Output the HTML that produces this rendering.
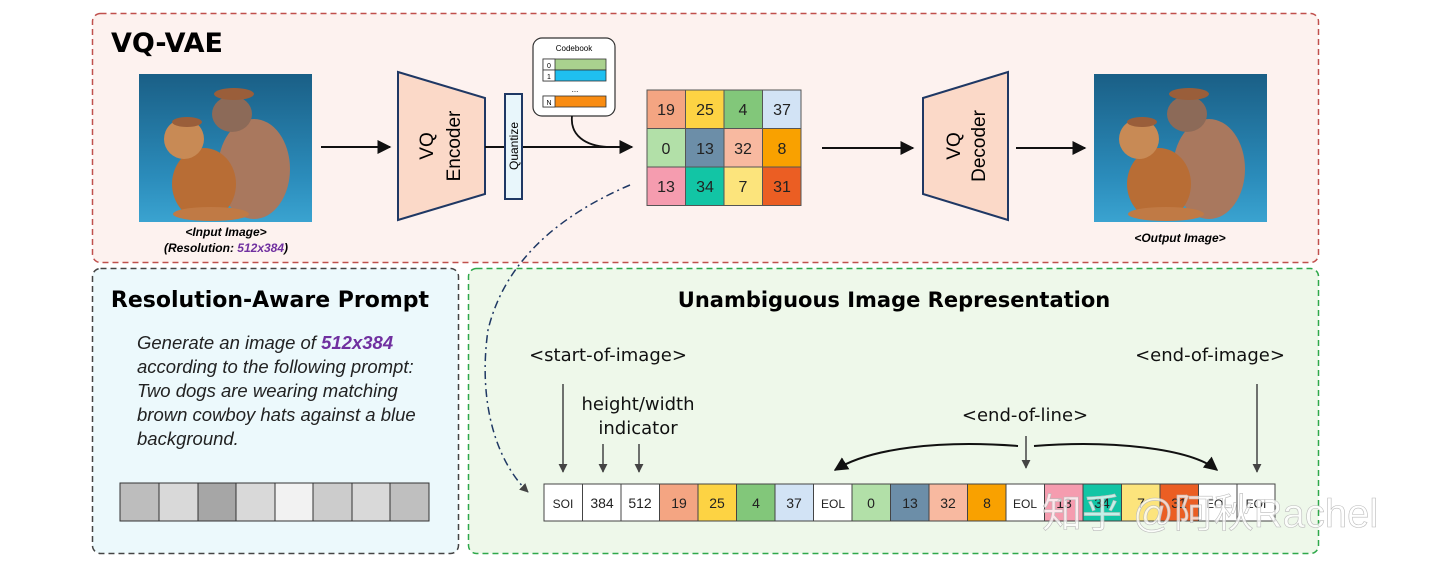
<!DOCTYPE html>
<html><head><meta charset="utf-8"><style>
html,body{margin:0;padding:0;background:#fff;width:1440px;height:574px;overflow:hidden}
svg text{font-family:"Liberation Sans","DejaVu Sans",sans-serif}
</style></head><body>
<svg width="1440" height="574" viewBox="0 0 1440 574" xmlns="http://www.w3.org/2000/svg">
<defs>
<marker id="a" viewBox="0 0 10 10" refX="9" refY="5" markerWidth="7" markerHeight="7" orient="auto"><path d="M0,0 L10,5 L0,10 z" fill="#111"/></marker>
<marker id="g" viewBox="0 0 10 10" refX="9" refY="5" markerWidth="6" markerHeight="6" orient="auto"><path d="M0,0 L10,5 L0,10 z" fill="#444"/></marker>
<linearGradient id="bg" x1="0" y1="0" x2="0" y2="1"><stop offset="0" stop-color="#1a5f86"/><stop offset="0.7" stop-color="#2b8cbb"/><stop offset="1" stop-color="#3aa3d0"/></linearGradient>
<g id="dogs">
<rect x="0" y="0" width="173" height="148" fill="url(#bg)"/>
<ellipse cx="115" cy="95" rx="36" ry="50" fill="#a9785e"/>
<ellipse cx="93" cy="40" rx="20" ry="18" fill="#8c6a58"/>
<ellipse cx="95" cy="20" rx="20" ry="6" fill="#9a5e3a"/>
<ellipse cx="65" cy="110" rx="32" ry="36" fill="#b86d35"/>
<ellipse cx="45" cy="65" rx="20" ry="20" fill="#c88a55"/>
<ellipse cx="48" cy="48" rx="15" ry="5" fill="#9a5e3a"/>
<ellipse cx="72" cy="140" rx="38" ry="7" fill="#c07a45"/>
</g>
</defs>

<rect x="92.5" y="13.5" width="1226" height="249" rx="8" fill="#fdf2ef" stroke="#c0504d" stroke-width="1.5" stroke-dasharray="6,4"/>
<rect x="92.5" y="268.5" width="366" height="285" rx="8" fill="#ecf9fc" stroke="#444" stroke-width="1.5" stroke-dasharray="6,4"/>
<rect x="468.5" y="268.5" width="850" height="285" rx="8" fill="#eef8ea" stroke="#2ea84a" stroke-width="1.5" stroke-dasharray="6,4"/>

<text x="111" y="52" font-size="27" font-weight="bold" style="font-family:'DejaVu Sans',sans-serif">VQ-VAE</text>

<use href="#dogs" x="139" y="74"/>
<use href="#dogs" x="1094" y="74"/>
<text x="226" y="236" font-size="12" font-style="italic" font-weight="bold" text-anchor="middle">&lt;Input Image&gt;</text>
<text x="226" y="252" font-size="12" font-style="italic" font-weight="bold" text-anchor="middle">(Resolution: <tspan fill="#7030a0">512x384</tspan>)</text>
<text x="1180" y="242" font-size="12" font-style="italic" font-weight="bold" text-anchor="middle">&lt;Output Image&gt;</text>

<line x1="321" y1="147" x2="390" y2="147" stroke="#111" stroke-width="2" marker-end="url(#a)"/>
<polygon points="398,72 485,98 485,194 398,220" fill="#fbd9c8" stroke="#1f3864" stroke-width="2"/>
<text transform="translate(433,146) rotate(-90)" font-size="19" text-anchor="middle">VQ</text>
<text transform="translate(460,146) rotate(-90)" font-size="19" text-anchor="middle">Encoder</text>
<line x1="485" y1="147" x2="632" y2="147" stroke="#111" stroke-width="2" marker-end="url(#a)"/>
<rect x="505" y="94" width="17" height="105" fill="#e8f6fb" stroke="#1f3864" stroke-width="2"/>
<text transform="translate(518,146) rotate(-90)" font-size="12" text-anchor="middle">Quantize</text>

<rect x="533" y="38" width="82" height="78" rx="9" fill="#fff" stroke="#333" stroke-width="1.2"/>
<text x="574" y="51" font-size="8" text-anchor="middle">Codebook</text>
<rect x="543" y="59" width="63" height="11" fill="#a9d18e" stroke="#333" stroke-width="0.8"/>
<rect x="543" y="70" width="63" height="11" fill="#1fbff0" stroke="#333" stroke-width="0.8"/>
<rect x="543" y="96" width="63" height="11" fill="#f98c12" stroke="#333" stroke-width="0.8"/>
<rect x="543" y="59" width="12" height="11" fill="#fff" stroke="#333" stroke-width="0.8"/>
<rect x="543" y="70" width="12" height="11" fill="#fff" stroke="#333" stroke-width="0.8"/>
<rect x="543" y="96" width="12" height="11" fill="#fff" stroke="#333" stroke-width="0.8"/>
<text x="549" y="68" font-size="7" text-anchor="middle">0</text>
<text x="549" y="79" font-size="7" text-anchor="middle">1</text>
<text x="549" y="105" font-size="7" text-anchor="middle">N</text>
<text x="575" y="92" font-size="8" text-anchor="middle">...</text>
<path d="M572,116 C570,135 585,146 608,147" fill="none" stroke="#111" stroke-width="1.8"/>

<g stroke="#555" stroke-width="1">
<rect x="647" y="90" width="38.5" height="38.5" fill="#f4a582"/><rect x="685.5" y="90" width="38.5" height="38.5" fill="#fdd343"/><rect x="724" y="90" width="38.5" height="38.5" fill="#82c77a"/><rect x="762.5" y="90" width="38.5" height="38.5" fill="#d2e3f5"/>
<rect x="647" y="128.5" width="38.5" height="38.5" fill="#b2e0a8"/><rect x="685.5" y="128.5" width="38.5" height="38.5" fill="#6c8ea8"/><rect x="724" y="128.5" width="38.5" height="38.5" fill="#f8b9a0"/><rect x="762.5" y="128.5" width="38.5" height="38.5" fill="#f9a100"/>
<rect x="647" y="167" width="38.5" height="38.5" fill="#f59caf"/><rect x="685.5" y="167" width="38.5" height="38.5" fill="#12c5a5"/><rect x="724" y="167" width="38.5" height="38.5" fill="#fce47c"/><rect x="762.5" y="167" width="38.5" height="38.5" fill="#eb5e23"/>
</g>
<g font-size="16" text-anchor="middle" fill="#222">
<text x="666" y="115">19</text><text x="705" y="115">25</text><text x="743" y="115">4</text><text x="782" y="115">37</text>
<text x="666" y="154">0</text><text x="705" y="154">13</text><text x="743" y="154">32</text><text x="782" y="154">8</text>
<text x="666" y="192">13</text><text x="705" y="192">34</text><text x="743" y="192">7</text><text x="782" y="192">31</text>
</g>

<line x1="822" y1="148" x2="913" y2="148" stroke="#111" stroke-width="2" marker-end="url(#a)"/>
<polygon points="923,98 1008,72 1008,220 923,194" fill="#fbd9c8" stroke="#1f3864" stroke-width="2"/>
<text transform="translate(960,146) rotate(-90)" font-size="19" text-anchor="middle">VQ</text>
<text transform="translate(985,146) rotate(-90)" font-size="19" text-anchor="middle">Decoder</text>
<line x1="1016" y1="148" x2="1085" y2="148" stroke="#111" stroke-width="2" marker-end="url(#a)"/>

<path d="M630,185 C560,215 505,260 488,330 C478,400 495,460 528,492" fill="none" stroke="#1f3864" stroke-width="1.5" stroke-dasharray="8,4,2,4" marker-end="url(#g)"/>

<text x="270" y="307" font-size="22" font-weight="bold" text-anchor="middle" style="font-family:'DejaVu Sans',sans-serif">Resolution-Aware Prompt</text>
<g font-size="18.5" font-style="italic" fill="#222">
<text x="137" y="349">Generate an image of  <tspan fill="#7030a0" font-weight="bold">512x384</tspan></text>
<text x="137" y="373">according to the following prompt:</text>
<text x="137" y="397">Two dogs are wearing matching</text>
<text x="137" y="421">brown cowboy hats against a blue</text>
<text x="137" y="445">background.</text>
</g>
<g stroke="#333" stroke-width="1">
<rect x="120" y="483" width="39" height="38" fill="#bdbdbd"/><rect x="159" y="483" width="39" height="38" fill="#d9d9d9"/><rect x="198" y="483" width="38" height="38" fill="#a6a6a6"/><rect x="236" y="483" width="39" height="38" fill="#d9d9d9"/><rect x="275" y="483" width="38" height="38" fill="#f2f2f2"/><rect x="313" y="483" width="39" height="38" fill="#cccccc"/><rect x="352" y="483" width="38" height="38" fill="#d9d9d9"/><rect x="390" y="483" width="39" height="38" fill="#bfbfbf"/>
</g>

<text x="894" y="307" font-size="21" font-weight="bold" text-anchor="middle" style="font-family:'DejaVu Sans',sans-serif">Unambiguous Image Representation</text>
<g font-size="18" fill="#111" text-anchor="middle">
<text x="608" y="361" style="font-family:'DejaVu Sans',sans-serif">&lt;start-of-image&gt;</text>
<text x="638" y="410" style="font-family:'DejaVu Sans',sans-serif">height/width</text>
<text x="638" y="434" style="font-family:'DejaVu Sans',sans-serif">indicator</text>
<text x="1025" y="421" style="font-family:'DejaVu Sans',sans-serif">&lt;end-of-line&gt;</text>
<text x="1210" y="361" style="font-family:'DejaVu Sans',sans-serif">&lt;end-of-image&gt;</text>
</g>
<g stroke="#444" stroke-width="1.5" marker-end="url(#g)">
<line x1="563" y1="384" x2="563" y2="472"/>
<line x1="603" y1="444" x2="603" y2="472"/>
<line x1="639" y1="444" x2="639" y2="472"/>
<line x1="1026" y1="436" x2="1026" y2="468"/>
<line x1="1257" y1="384" x2="1257" y2="472"/>
</g>
<path d="M1018,446 C940,440 870,448 835,470" fill="none" stroke="#111" stroke-width="2" marker-end="url(#a)"/>
<path d="M1034,446 C1110,440 1190,448 1217,470" fill="none" stroke="#111" stroke-width="2" marker-end="url(#a)"/>

<g stroke="#444" stroke-width="1">
<rect x="544" y="484" width="38.5" height="37" fill="#fff"/>
<rect x="582.5" y="484" width="38.5" height="37" fill="#fff"/>
<rect x="621" y="484" width="38.5" height="37" fill="#fff"/>
<rect x="659.5" y="484" width="38.5" height="37" fill="#f4a582"/>
<rect x="698" y="484" width="38.5" height="37" fill="#fdd343"/>
<rect x="736.5" y="484" width="38.5" height="37" fill="#82c77a"/>
<rect x="775" y="484" width="38.5" height="37" fill="#d2e3f5"/>
<rect x="813.5" y="484" width="38.5" height="37" fill="#fff"/>
<rect x="852" y="484" width="38.5" height="37" fill="#b2e0a8"/>
<rect x="890.5" y="484" width="38.5" height="37" fill="#6c8ea8"/>
<rect x="929" y="484" width="38.5" height="37" fill="#f8b9a0"/>
<rect x="967.5" y="484" width="38.5" height="37" fill="#f9a100"/>
<rect x="1006" y="484" width="38.5" height="37" fill="#fff"/>
<rect x="1044.5" y="484" width="38.5" height="37" fill="#f59caf"/>
<rect x="1083" y="484" width="38.5" height="37" fill="#12c5a5"/>
<rect x="1121.5" y="484" width="38.5" height="37" fill="#fce47c"/>
<rect x="1160" y="484" width="38.5" height="37" fill="#eb5e23"/>
<rect x="1198.5" y="484" width="38.5" height="37" fill="#fff"/>
<rect x="1237" y="484" width="38" height="37" fill="#fff"/>
</g>
<g font-size="14" text-anchor="middle" fill="#222">
<text x="563" y="508" font-size="12">SOI</text><text x="602" y="508">384</text><text x="640" y="508">512</text>
<text x="679" y="508">19</text><text x="717" y="508">25</text><text x="756" y="508">4</text><text x="794" y="508">37</text>
<text x="833" y="508" font-size="12">EOL</text>
<text x="871" y="508">0</text><text x="910" y="508">13</text><text x="948" y="508">32</text><text x="987" y="508">8</text>
<text x="1025" y="508" font-size="12">EOL</text>
<text x="1064" y="508">13</text><text x="1102" y="508">34</text><text x="1141" y="508">7</text><text x="1179" y="508">31</text>
<text x="1218" y="508" font-size="12">EOL</text><text x="1256" y="508" font-size="12">EOI</text>
</g>
<text x="1042" y="527" font-size="40" fill="#fff" fill-opacity="0.75" stroke="#bbb" stroke-width="0.6" style="font-family:'Liberation Sans','Noto Sans CJK SC',sans-serif">知乎 @阿秋Rachel</text>
</svg>
</body></html>
